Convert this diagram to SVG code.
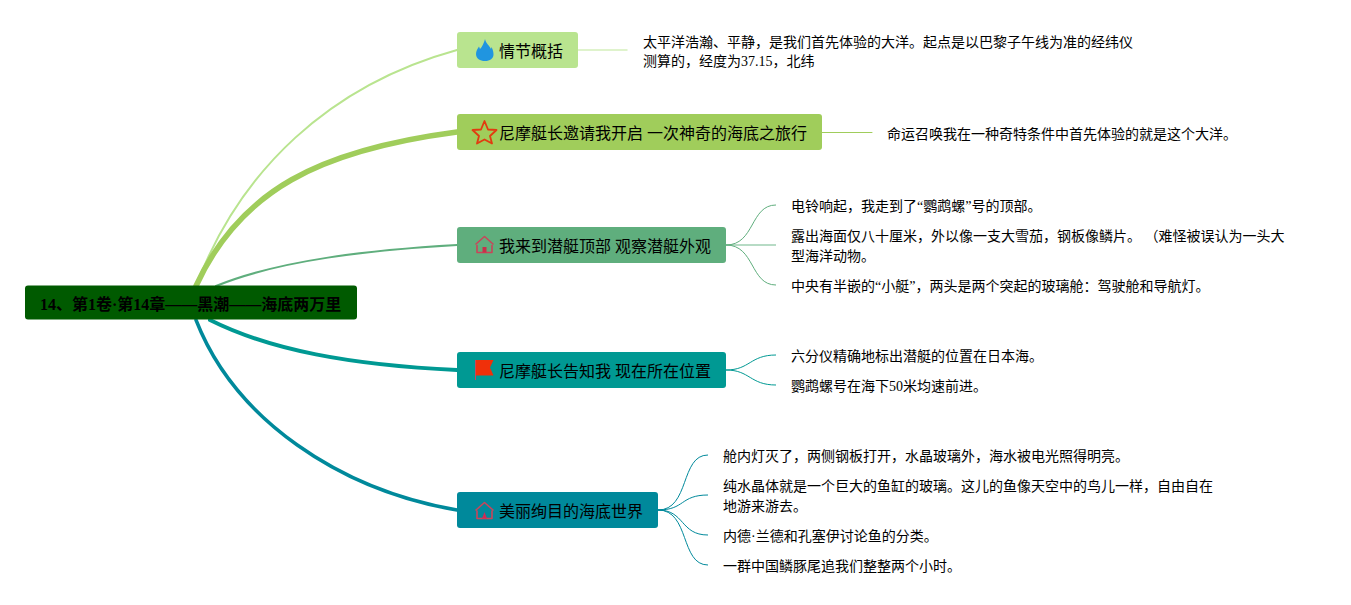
<svg xmlns="http://www.w3.org/2000/svg" width="1351" height="605" viewBox="0 0 1351 605">
<style>
text{font-family:"Liberation Serif","Noto Sans CJK SC",serif;fill:#000}
.t{font-size:16px}
.d{font-size:14px}
.r{font-size:16px;font-weight:bold}
.c{fill:none;stroke-linecap:round}
.i{fill:none;stroke:#c9455a;stroke-width:1.600;stroke-linejoin:round;stroke-linecap:round}
</style>
<rect width="1351" height="605" fill="#fff"/>
<g id="connectors">
<path class="c" d="M196 286C240 170 330 85 457 50" stroke="#b9e48f" stroke-width="2"/>
<path class="c" d="M196 286C240 190 320 150 457 132" stroke="#a0cd5b" stroke-width="5.500"/>
<path class="c" d="M216 286C280 260 370 250 457 245" stroke="#5fae7d" stroke-width="2"/>
<path class="c" d="M210 320C270 350 350 365 457 370" stroke="#009993" stroke-width="4"/>
<path class="c" d="M196 320C235 420 340 490 457 510" stroke="#00899b" stroke-width="3.500"/>
<path class="c" d="M578 50H627" stroke="#b9e48f" stroke-opacity=".6" stroke-width="1.500"/>
<path class="c" d="M822 132.500H872" stroke="#a0cd5b" stroke-width="1"/>
<g stroke="#5fae7d" stroke-width="1" fill="none">
<path d="M726 245C755 245 750 205 776 205"/>
<path d="M726 245H776" stroke-opacity=".6" stroke-width="1.500"/>
<path d="M726 245C755 245 750 285 776 285"/>
</g>
<g stroke="#009993" stroke-width="1" fill="none">
<path d="M726 370C750 370 750 355 776 355"/>
<path d="M726 370C750 370 750 385 776 385"/>
</g>
<g stroke="#00899b" stroke-width="1" fill="none">
<path d="M658 510C690 510 680 455 708 455"/>
<path d="M658 510C685 510 680 495 708 495"/>
<path d="M658 510C685 510 680 535 708 535"/>
<path d="M658 510C690 510 680 565 708 565"/>
</g>
</g>
<g id="root">
<rect x="25" y="285.500" width="332" height="34" rx="3" fill="#005a00"/>
<text class="r" x="40" y="310">14、第1卷·第14章——黑潮——海底两万里</text>
</g>
<g id="n1">
<rect x="457" y="32" width="121" height="36" rx="3" fill="#b9e48f"/>
<path d="M485 39C486 44 490 46 491 49L491.500 47C493 50 493.500 52 493.500 54.500C493.500 58.500 490 61 485 61C480 61 476 58.500 476 54C476 51 477.500 49 479 46.500L480 49C482 47 484 43 485 39Z" fill="#2095e0"/>
<text class="t" x="499" y="57">情节概括</text>
</g>
<g id="n2">
<rect x="457" y="114" width="365" height="36" rx="3" fill="#a0cd5b"/>
<path d="M484.500 121L488 129.500L496.500 130L490 136L492 143.500L484.500 139.500L477 143.500L479 136L472.500 130L481 129.500Z" fill="none" stroke="#e23b10" stroke-width="1.800" stroke-linejoin="round"/>
<text class="t" x="499" y="139">尼摩艇长邀请我开启 一次神奇的海底之旅行</text>
</g>
<g id="n3">
<rect x="457" y="227" width="269" height="36" rx="3" fill="#5fae7d"/>
<path class="i" d="M477 245.500V252.500H492V245.500M476 244L484.500 236.500L493 244"/>
<rect x="482.500" y="247" width="4" height="5.500" fill="#c9304a"/>
<text class="t" x="499" y="252">我来到潜艇顶部 观察潜艇外观</text>
</g>
<g id="n4">
<rect x="457" y="352" width="269" height="36" rx="3" fill="#009993"/>
<path d="M475.500 360H493.500L490 367.500L493.500 375.500H475.500Z" fill="#f0300a"/>
<path d="M475.500 360V380" stroke="#c9455a" stroke-width="1"/>
<text class="t" x="499" y="377">尼摩艇长告知我 现在所在位置</text>
</g>
<g id="n5">
<rect x="457" y="492" width="201" height="36" rx="3" fill="#00899b"/>
<path class="i" d="M477 511V518.500H492V511M476 510L484.500 502.500L493 510"/>
<path d="M482 518.500L484.500 512L487 518.500Z" fill="#d02a55"/>
<text class="t" x="499" y="517">美丽绚目的海底世界</text>
</g>
<g id="d1"><text class="d" x="643" y="46.500">太平洋浩瀚、平静，是我们首先体验的大洋。起点是以巴黎子午线为准的经纬仪</text><text class="d" x="643" y="66">测算的，经度为37.15，北纬</text></g>
<g id="d2"><text class="d" x="887" y="139">命运召唤我在一种奇特条件中首先体验的就是这个大洋。</text></g>
<g id="d3"><text class="d" x="791" y="211">电铃响起，我走到了“鹦鹉螺”号的顶部。</text></g>
<g id="d4"><text class="d" x="791" y="241">露出海面仅八十厘米，外以像一支大雪茄，钢板像鳞片。 （难怪被误认为一头大</text><text class="d" x="791" y="261">型海洋动物。</text></g>
<g id="d5"><text class="d" x="791" y="291">中央有半嵌的“小艇”，两头是两个突起的玻璃舱：驾驶舱和导航灯。</text></g>
<g id="d6"><text class="d" x="791" y="361">六分仪精确地标出潜艇的位置在日本海。</text></g>
<g id="d7"><text class="d" x="791" y="391">鹦鹉螺号在海下50米均速前进。</text></g>
<g id="d8"><text class="d" x="723" y="461">舱内灯灭了，两侧钢板打开，水晶玻璃外，海水被电光照得明亮。</text></g>
<g id="d9"><text class="d" x="723" y="491">纯水晶体就是一个巨大的鱼缸的玻璃。这儿的鱼像天空中的鸟儿一样，自由自在</text><text class="d" x="723" y="511">地游来游去。</text></g>
<g id="d10"><text class="d" x="723" y="541">内德·兰德和孔塞伊讨论鱼的分类。</text></g>
<g id="d11"><text class="d" x="723" y="571">一群中国鳞豚尾追我们整整两个小时。</text></g>
</svg>
